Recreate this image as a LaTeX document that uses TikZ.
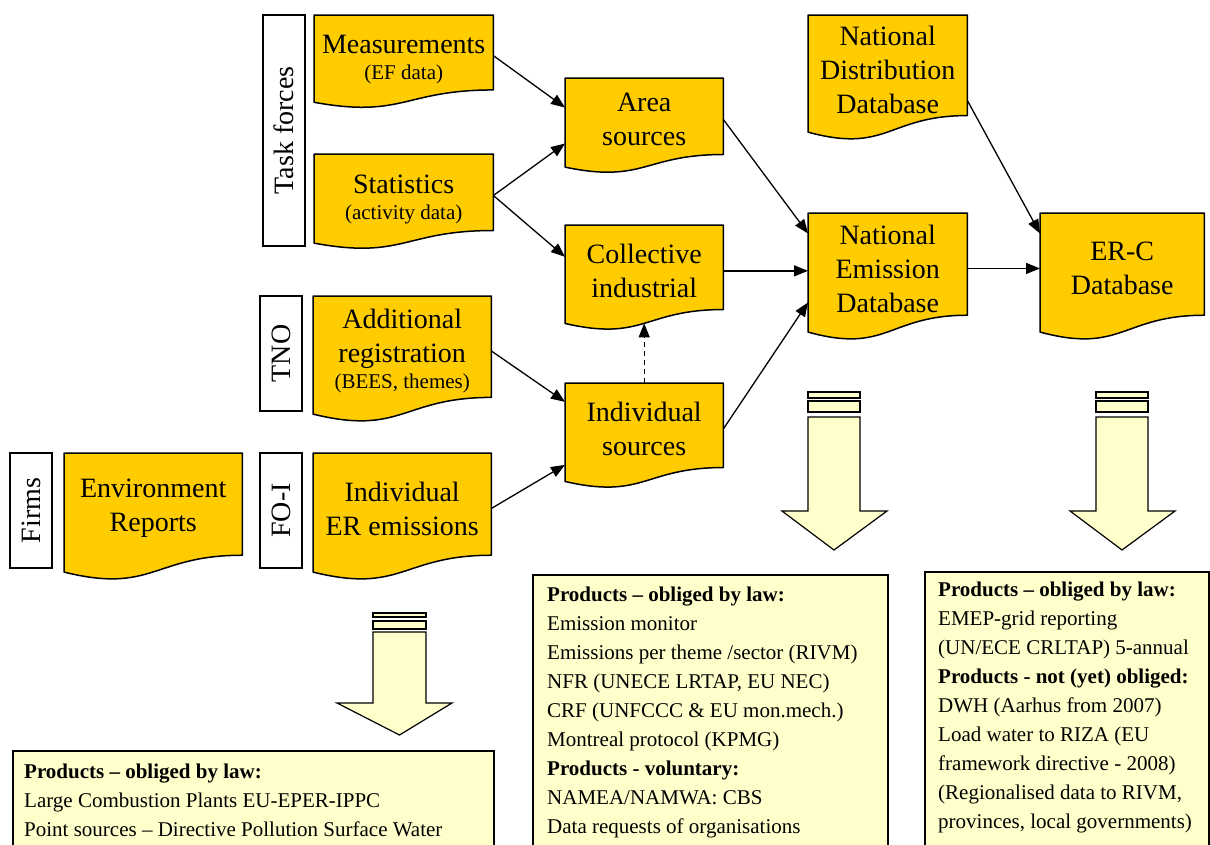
\documentclass[tikz,border=0pt]{standalone}
\usepackage{fontspec}
\setmainfont{Liberation Serif}
\usetikzlibrary{arrows.meta,calc,backgrounds}
\definecolor{docfill}{HTML}{FFCC00}
\definecolor{boxfill}{HTML}{FFFFCC}
\newcommand\bigfont{\fontsize{28}{34}\selectfont}
\newcommand\smfont{\fontsize{21}{26}\selectfont}
\newcommand\boxfont{\fontsize{21}{29}\selectfont}
\newcommand\docshape[1]{%
  \path[docline] (#1.north west) -- (#1.north east)
    -- ($(#1.north east)!0.9218!(#1.south east)$)
    .. controls ($(#1.north)!0.9218!(#1.south)$) and ($(#1.north)!1.273!(#1.south)$)
    .. ($(#1.north west)!1.0736!(#1.south west)$) -- cycle;}
\tikzset{
  docnode/.style={anchor=north west, inner sep=0pt, align=center, font=\bigfont},
  docline/.style={draw=black, fill=docfill, line width=1.5pt, line join=round},
  sidelabel/.style={draw=black, fill=white, line width=1.5pt, rotate=90, inner sep=0pt, font=\bigfont},
  conn/.style={line width=1.3pt, -{Triangle[length=14pt,width=11pt]}},
  prodbox/.style={draw=black, fill=boxfill, line width=1.5pt, anchor=north west, inner sep=0pt},
  prodtext/.style={anchor=north west, inner sep=0pt, align=left, font=\boxfont},
  blockarr/.style={draw=black, fill=boxfill, line width=1.2pt, line join=miter}
}
\begin{document}
\begin{tikzpicture}[x=1pt, y=-1pt]
\clip (0,0) rectangle (1210,844);

% side labels
\node[sidelabel, minimum width=231pt, minimum height=42pt] (tf) at (284,130.5) {Task forces};
\node[sidelabel, minimum width=115pt, minimum height=42pt] (tno) at (281,353.5) {TNO};
\node[sidelabel, minimum width=115pt, minimum height=42pt] (firms) at (31,510.5) {Firms};
\node[sidelabel, minimum width=115pt, minimum height=42pt] (foi) at (281,510.5) {FO-I};

% document nodes (text region = top 0.87 of shape)
\node[docnode, minimum width=179pt, minimum height=80.9pt] (meas) at (314,15) {\rule{0pt}{27pt}Measurements\\[-8pt]\smfont (EF data)};
\node[docnode, minimum width=179pt, minimum height=82.6pt] (stat) at (314,154) {\rule{0pt}{27pt}Statistics\\[-8pt]\smfont (activity data)};
\node[docnode, minimum width=178pt, minimum height=109.6pt] (addreg) at (313,296) {Additional\\registration\\[-8pt]\smfont (BEES, themes)};
\node[docnode, minimum width=178pt, minimum height=110.5pt] (envrep) at (64,453) {Environment\\Reports};
\node[docnode, minimum width=178pt, minimum height=110.5pt] (ierem) at (313,453) {Individual\\ER emissions};
\node[docnode, minimum width=158pt, minimum height=82.6pt] (area) at (565,78) {Area\\sources};
\node[docnode, minimum width=158pt, minimum height=91.3pt] (coll) at (565,225) {Collective\\industrial};
\node[docnode, minimum width=158pt, minimum height=91.3pt] (indiv) at (565,383) {Individual\\sources};
\node[docnode, minimum width=159pt, minimum height=108.7pt] (nd) at (808,15) {National\\Distribution\\Database};
\node[docnode, minimum width=159pt, minimum height=110.5pt] (ne) at (808,213) {National\\Emission\\Database};
\node[docnode, minimum width=164pt, minimum height=110.5pt] (erc) at (1040,213) {ER-C\\Database};

\begin{scope}[on background layer]
  \fill[white] (0,0) rectangle (1210,844);
  \docshape{meas}\docshape{stat}\docshape{addreg}\docshape{envrep}\docshape{ierem}
  \docshape{area}\docshape{coll}\docshape{indiv}\docshape{nd}\docshape{ne}\docshape{erc}
\end{scope}

% connectors
\draw[conn] (meas.east) -- ([yshift=12pt]area.west);
\draw[conn] (stat.east) -- ([yshift=-24pt]area.west);
\draw[conn] (stat.east) -- ([yshift=14pt]coll.west);
\draw[conn] (addreg.east) -- ([yshift=27pt]indiv.west);
\draw[conn] (ierem.east) -- ([yshift=-36pt]indiv.west);
\draw[conn, dash pattern=on 5pt off 4pt, line width=1pt] (indiv.north) -- ($(coll.north)!1.0724!(coll.south)$);
\draw[conn] (area.east) -- ([yshift=35pt]ne.west);
\draw[conn] (coll.east) -- (coll.east -| ne.west);
\draw[conn] (indiv.east) -- ([yshift=-34pt]ne.west);
\draw[conn] (ne.east) -- (ne.east -| erc.west);
\draw[conn] ([yshift=-31pt]nd.east) -- ([yshift=35pt]erc.west);

% block arrows
\path[blockarr] (808,392) rectangle (860,398);
\path[blockarr] (808,401) rectangle (860,412);
\path[blockarr] (808,417) -- (860,417) -- (860,511) -- (887,511) -- (834,550) -- (782,511) -- (808,511) -- cycle;
\path[blockarr] (1096,392) rectangle (1148,398);
\path[blockarr] (1096,401) rectangle (1148,412);
\path[blockarr] (1096,417) -- (1148,417) -- (1148,511) -- (1175,511) -- (1122,550) -- (1070,511) -- (1096,511) -- cycle;
\path[blockarr] (373,613) rectangle (426,617);
\path[blockarr] (373,621) rectangle (426,629);
\path[blockarr] (373,632) -- (426,632) -- (426,703) -- (452,703) -- (399.5,735) -- (337,703) -- (373,703) -- cycle;

% product boxes
\node[prodbox, minimum width=481pt, minimum height=110pt] (pb1) at (12,750) {};
\node[prodtext] (pt1) at ([xshift=12pt,yshift=-14pt]pb1.north west) {\textbf{Products – obliged by law:}\\Large Combustion Plants EU-EPER-IPPC\\Point sources – Directive Pollution Surface Water};
\node[prodbox, minimum width=355pt, minimum height=290pt] (pb2) at (532,574) {};
\node[prodtext] (pt2) at ([xshift=15pt,yshift=-13pt]pb2.north west) {\textbf{Products – obliged by law:}\\Emission monitor\\Emissions per theme /sector (RIVM)\\NFR (UNECE LRTAP, EU NEC)\\CRF (UNFCCC \& EU mon.mech.)\\Montreal protocol (KPMG)\\\textbf{Products - voluntary:}\\NAMEA/NAMWA: CBS\\Data requests of organisations};
\node[prodbox, minimum width=284pt, minimum height=290pt] (pb3) at (924,571) {};
\node[prodtext] (pt3) at ([xshift=14pt,yshift=-11pt]pb3.north west) {\textbf{Products – obliged by law:}\\EMEP-grid reporting\\(UN/ECE CRLTAP) 5-annual\\\textbf{Products - not (yet) obliged:}\\DWH (Aarhus from 2007)\\Load water to RIZA (EU\\framework directive - 2008)\\(Regionalised data to RIVM,\\provinces, local governments)};
\end{tikzpicture}
\end{document}
